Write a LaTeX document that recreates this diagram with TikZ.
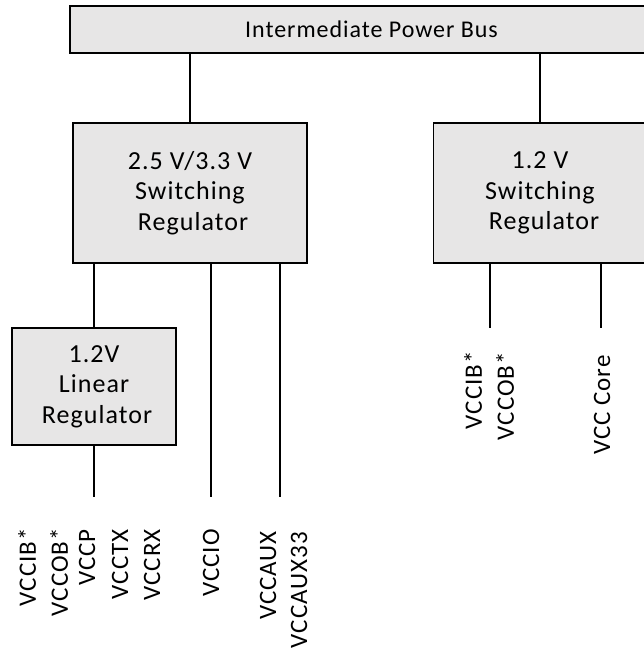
\documentclass[tikz,border=0pt]{standalone}
\usepackage{fontspec}
\setmainfont{Carlito}[LetterSpace=4]
\definecolor{boxgray}{HTML}{E7E6E6}
\newcommand{\boxfont}{\fontsize{26}{30.5}\selectfont}
\newcommand{\busfont}{\fontsize{24}{28}\selectfont}
\newcommand{\labfont}{\fontsize{25}{28}\selectfont}
\begin{document}
\begin{tikzpicture}[x=1pt,y=-1pt,
  box/.style={draw=black, line width=1.5pt, fill=boxgray, inner sep=0pt, outer sep=0pt, align=center, font=\boxfont},
  wire/.style={line width=1.7pt},
  lab/.style={rotate=90, anchor=east, inner sep=0pt, font=\labfont}]
\useasboundingbox (0,0) rectangle (644,653);
\clip (0,0) rectangle (644,653);
% boxes
\node[box, font=\busfont, minimum width=603pt, minimum height=47pt] (bus) at (371.5,29.5) {Intermediate Power Bus};
\node[box, minimum width=234pt, minimum height=140pt] (sw25) at (190,193) {2.5 V/3.3 V\\Switching\hspace*{6pt}\\\hspace*{6pt}Regulator};
\node[box, minimum width=213pt, minimum height=140pt] (sw12) at (540,193) {1.2 V\\Switching\hspace*{6pt}\\\hspace*{8pt}Regulator};
\node[box, minimum width=164pt, minimum height=117pt] (lin) at (94,386.5) {1.2V\\Linear\hspace*{10pt}\\\hspace*{6pt}Regulator};
% free ends
\coordinate (e0) at (94,497);
\coordinate (e1) at (211,497);
\coordinate (e2) at (280,497);
\coordinate (r1) at (490,328);
\coordinate (r2) at (601,328);
% connectors
\draw[wire] (sw25.north) -- (sw25.north |- bus.south);
\draw[wire] (sw12.north) -- (sw12.north |- bus.south);
\draw[wire] (lin.north) -- (lin.north |- sw25.south);
\draw[wire] (lin.south) -- (e0);
\draw[wire] (e1 |- sw25.south) -- (e1);
\draw[wire] (e2 |- sw25.south) -- (e2);
\draw[wire] (r1 |- sw12.south) -- (r1);
\draw[wire] (r2 |- sw12.south) -- (r2);
% labels
\node[lab] (l1) at (27,528) {VCCIB*};
\node[lab] (l2) at (59,528) {VCCOB*};
\node[lab] (l3) at (87,529) {VCCP};
\node[lab] (l4) at (120,529) {VCCTX};
\node[lab] (l5) at (152,529) {VCCRX};
\node[lab] (l6) at (211,529) {VCCIO};
\node[lab] (l7) at (268,531) {VCCAUX};
\node[lab] (l8) at (299,532) {VCCAUX33};
\node[lab] (m1) at (473,351) {VCCIB*};
\node[lab] (m2) at (505,352) {VCCOB*};
\node[lab] (m3) at (602,355) {VCC Core};
\end{tikzpicture}
\end{document}
